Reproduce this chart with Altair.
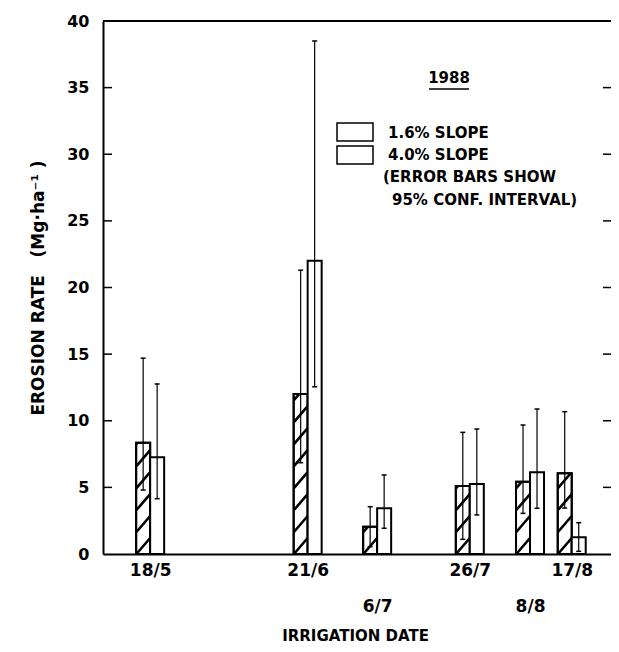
import altair as alt
import pandas as pd

# ---------------- data ----------------
date_labels = ["18/5", "21/6", "6/7", "26/7", "8/8", "17/8"]
day_of_year = [139, 173, 188, 208, 221, 230]
lower_row_labels = ["6/7", "8/8"]

slope16_mean = [8.35, 12.0, 2.05, 5.1, 5.43, 6.06]
slope16_low = [4.8, 6.85, 0.55, 1.1, 3.05, 3.45]
slope16_high = [14.7, 21.3, 3.55, 9.13, 9.68, 10.68]

slope40_mean = [7.26, 22.0, 3.43, 5.25, 6.13, 1.25]
slope40_low = [4.15, 12.55, 1.93, 2.93, 3.43, 0.2]
slope40_high = [12.76, 38.5, 5.93, 9.38, 10.88, 2.35]

y_tick_values = [0, 5, 10, 15, 20, 25, 30, 35, 40]
year_text = "1988"
legend_labels = ["1.6% SLOPE", "4.0% SLOPE"]
note_lines = ["(ERROR BARS SHOW", "95% CONF. INTERVAL)"]
y_title = "EROSION RATE\u00a0\u00a0\u00a0(Mg\u00b7ha\u207b\u00b9\u00a0)"
x_title = "IRRIGATION DATE"

# ---------------- layout ----------------
W, H = 508, 533
X_DOMAIN = [129.9, 237.4]
BAR_W = 14
FONT = "DejaVu Sans"
px_per_day = W / (X_DOMAIN[1] - X_DOMAIN[0])

df = pd.DataFrame({
    "doy": day_of_year, "label": date_labels,
    "m16": slope16_mean, "lo16": slope16_low, "hi16": slope16_high,
    "m40": slope40_mean, "lo40": slope40_low, "hi40": slope40_high,
})

# hatch segments for the 1.6% bars (style pattern, clipped to each bar)
HATCH_SP, HATCH_RISE = 1.65, 1.2
hatch_rows = []
for d, v in zip(day_of_year, slope16_mean):
    left = d - BAR_W / px_per_day
    right = d
    k = -1
    while k * HATCH_SP < v:
        y0, y1 = k * HATCH_SP, k * HATCH_SP + HATCH_RISE
        a = max(y0, 0.0)
        b = min(y1, v)
        if b > a:
            fa = (a - y0) / HATCH_RISE
            fb = (b - y0) / HATCH_RISE
            hatch_rows.append({
                "x1": left + (right - left) * fa, "x2": left + (right - left) * fb,
                "y1": a, "y2": b,
            })
        k += 1
hatch = pd.DataFrame(hatch_rows)

xscale = alt.Scale(domain=X_DOMAIN, nice=False, zero=False)
yscale = alt.Scale(domain=[0, 40], nice=False)

# label expression with staggered rows
expr = "''"
for d, lab in reversed(list(zip(day_of_year, date_labels))):
    lab_js = f"['', '{lab}']" if lab in lower_row_labels else f"'{lab}'"
    expr = f"datum.value == {d} ? {lab_js} : ({expr})"

x_axis = alt.Axis(
    values=day_of_year, labelExpr=expr, ticks=False, grid=False,
    domainColor="black", domainWidth=2, labelFont=FONT, labelFontWeight="bold",
    labelFontSize=17, labelColor="black", labelPadding=8, labelLineHeight=36,
    labelOverlap=False, labelFlush=False, labelBound=False,
    title=x_title, titleFont=FONT, titleFontWeight="bold", titleFontSize=15,
    titleColor="black", titleY=81, titleBaseline="middle", titleX=W / 2 - 2,
)
y_axis = alt.Axis(
    values=y_tick_values, ticks=False, grid=False, domainColor="black",
    domainWidth=2, labelFont=FONT, labelFontWeight="bold", labelFontSize=16,
    labelColor="black", labelPadding=14, title=y_title, titleFont=FONT,
    titleFontWeight="bold", titleFontSize=17, titleColor="black",
    titleX=-65, titleBaseline="middle", titleAlign="center",
)

base = alt.Chart(df)

bars16 = base.mark_bar(width=BAR_W, xOffset=-BAR_W / 2, fill="white",
                       stroke="black", strokeWidth=2).encode(
    x=alt.X("doy:Q", scale=xscale, axis=x_axis),
    y=alt.Y("m16:Q", scale=yscale, axis=y_axis),
)
bars40 = base.mark_bar(width=BAR_W, xOffset=BAR_W / 2, fill="white",
                       stroke="black", strokeWidth=2).encode(
    x=alt.X("doy:Q", scale=xscale), y=alt.Y("m40:Q", scale=yscale),
)
hatch_layer = alt.Chart(hatch).mark_rule(stroke="black", strokeWidth=2.6).encode(
    x=alt.X("x1:Q", scale=xscale), x2="x2:Q",
    y=alt.Y("y1:Q", scale=yscale), y2="y2:Q",
)
outline16 = base.mark_bar(width=BAR_W, xOffset=-BAR_W / 2, fillOpacity=0,
                          stroke="black", strokeWidth=2).encode(
    x=alt.X("doy:Q", scale=xscale), y=alt.Y("m16:Q", scale=yscale),
)


def errbars(lo, hi, off):
    line = base.mark_rule(stroke="black", strokeWidth=1.2, xOffset=off).encode(
        x=alt.X("doy:Q", scale=xscale), y=alt.Y(f"{lo}:Q", scale=yscale), y2=f"{hi}:Q",
    )
    caps = []
    for f in (lo, hi):
        caps.append(base.mark_rule(stroke="black", strokeWidth=1.5,
                                   xOffset=off - 2.5, x2Offset=off + 2.5).encode(
            x=alt.X("doy:Q", scale=xscale), x2="doy:Q",
            y=alt.Y(f"{f}:Q", scale=yscale),
        ))
    return [line] + caps


err16 = errbars("lo16", "hi16", -BAR_W / 2)
err40 = errbars("lo40", "hi40", BAR_W / 2)

tick_df = pd.DataFrame({"v": y_tick_values[1:-1]})
left_ticks = alt.Chart(tick_df).mark_rule(stroke="black", strokeWidth=1.5).encode(
    y=alt.Y("v:Q", scale=yscale), x=alt.value(0), x2=alt.value(9))
right_ticks = alt.Chart(tick_df).mark_rule(stroke="black", strokeWidth=1.5).encode(
    y=alt.Y("v:Q", scale=yscale), x=alt.value(W - 8), x2=alt.value(W))
top_line = alt.Chart(alt.Data(values=[{}])).mark_rule(stroke="black", strokeWidth=2).encode(
    x=alt.value(0), x2=alt.value(W), y=alt.value(0))

one = alt.Data(values=[{}])
year = alt.Chart(one).mark_text(text=year_text, font=FONT, fontWeight="bold",
                                fontSize=15, align="center", baseline="middle",
                                color="black").encode(x=alt.value(346), y=alt.value(57))
year_ul = alt.Chart(one).mark_rule(stroke="black", strokeWidth=1.5).encode(
    x=alt.value(326), x2=alt.value(366), y=alt.value(68))

leg_boxes = alt.Chart(pd.DataFrame({"lab": legend_labels, "i": [0, 1]})).mark_rect(
    fill="white", stroke="black", strokeWidth=1.5).encode(
    x=alt.value(234), x2=alt.value(270),
    y=alt.Y("i:Q", scale=alt.Scale(domain=[0, 1], range=[102, 125]), axis=None),
    y2=alt.Y2("i2:Q"),
).transform_calculate(i2="datum.i + 0.78")

leg_text = alt.Chart(pd.DataFrame({"lab": legend_labels, "i": [0, 1]})).mark_text(
    font=FONT, fontWeight="bold", fontSize=15, align="left", baseline="middle",
    color="black").encode(
    x=alt.value(285),
    y=alt.Y("i:Q", scale=alt.Scale(domain=[0, 1], range=[112, 134]), axis=None),
    text="lab:N",
)
note1 = alt.Chart(one).mark_text(text=note_lines[0], font=FONT, fontWeight="bold",
                                 fontSize=15, align="left", baseline="middle",
                                 color="black").encode(x=alt.value(280), y=alt.value(156))
note2 = alt.Chart(one).mark_text(text=note_lines[1], font=FONT, fontWeight="bold",
                                 fontSize=15, align="left", baseline="middle",
                                 color="black").encode(x=alt.value(289), y=alt.value(179))

chart = alt.layer(
    bars16, hatch_layer, outline16, bars40, *err16, *err40,
    left_ticks, right_ticks, top_line, year, year_ul, leg_boxes, leg_text, note1, note2,
).resolve_scale(y="independent").properties(
    width=W, height=H,
    autosize=alt.AutoSizeParams(type="none"),
    padding={"left": 95, "top": 13, "right": 0, "bottom": 90},
).configure_view(stroke=None).configure(background="white")

chart.save("out.html", embed_options={"renderer": "svg", "actions": False})
